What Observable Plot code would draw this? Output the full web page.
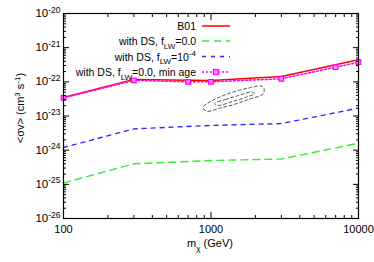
<!DOCTYPE html>
<html><head><meta charset="utf-8">
<script src="https://cdn.jsdelivr.net/npm/d3@7"></script>
<script src="https://cdn.jsdelivr.net/npm/@observablehq/plot@0.6"></script>
<style>html,body{margin:0;padding:0;background:#fff;} svg{font-family:"Liberation Sans",Arial,sans-serif;}</style>
</head><body><div id="chart"></div>
<script>
// ---- data ----
const massB01 = [100, 300, 1000, 3000, 10000];
const sigmaB01 = [3.5e-23, 1.18e-22, 1.1e-22, 1.43e-22, 4.4e-22];
const massDS = [100, 300, 1000, 3000, 10000];
const sigmaDS0 = [1.1e-25, 4.0e-25, 5.0e-25, 5.5e-25, 1.6e-24];
const sigmaDS4 = [1.2e-24, 4.2e-24, 5.3e-24, 6.0e-24, 1.7e-23];
const massMinAge = [100, 300, 700, 1000, 3000, 7000, 10000];
const sigmaMinAge = [3.4e-23, 1.1e-22, 1.0e-22, 1.0e-22, 1.23e-22, 2.68e-22, 3.76e-22];
// contour (dashed ellipses)
const outerMass = [880, 1024, 1216, 1489, 1853, 2198, 2290, 2250, 1795, 1421, 1159, 940];
const outerSigma = [1.75e-23, 2.85e-23, 4.0e-23, 5.4e-23, 6.8e-23, 7.5e-23, 6.2e-23, 4.4e-23, 3.05e-23, 2.15e-23, 1.72e-23, 1.38e-23];
const innerMass = [1057, 1254, 1536, 1882, 1972, 1714, 1398, 1107];
const innerSigma = [2.32e-23, 3.04e-23, 3.98e-23, 5.04e-23, 4.56e-23, 3.48e-23, 2.66e-23, 2.03e-23];
// ticks
const xTicks = [100, 1000, 10000];
const yTicks = [1e-26, 1e-25, 1e-24, 1e-23, 1e-22, 1e-21, 1e-20];

const zip = (xs, ys, extra = {}) => xs.map((x, i) => ({x, y: ys[i], ...extra}));
const contour = [...zip(outerMass, outerSigma, {z: "outer"}), ...zip(innerMass, innerSigma, {z: "inner"})];

const xMinor = [];
for (let d = 2; d < 4; d++) for (let k = 2; k <= 9; k++) xMinor.push(k * 10 ** d);
const yMinor = [];
for (let d = -26; d < -20; d++) for (let k = 2; k <= 9; k++) yMinor.push(+(k * 10 ** d).toPrecision(3));

const RED = "#ff0000", GREEN = "#33ee33", BLUE = "#2a2aff", PINK = "#ff00ff";

const plot = Plot.plot({
  width: 374, height: 262,
  marginLeft: 63, marginRight: 16, marginTop: 13, marginBottom: 44,
  style: {fontFamily: '"Liberation Sans", Arial, sans-serif', fontSize: "11px", color: "#000"},
  x: {type: "log", domain: [100, 10000], axis: null},
  y: {type: "log", domain: [1e-26, 1e-20], axis: null},
  marks: [
    Plot.line(contour, {x: "x", y: "y", z: "z", curve: "catmull-rom-closed", stroke: "#555", strokeWidth: 1, strokeDasharray: "3,2.5"}),
    Plot.line(zip(massDS, sigmaDS0), {x: "x", y: "y", stroke: GREEN, strokeWidth: 1.4, strokeDasharray: "7,5"}),
    Plot.line(zip(massDS, sigmaDS4), {x: "x", y: "y", stroke: BLUE, strokeWidth: 1.4, strokeDasharray: "4,5"}),
    Plot.line(zip(massB01, sigmaB01), {x: "x", y: "y", stroke: RED, strokeWidth: 1.5}),
    Plot.line(zip(massMinAge, sigmaMinAge), {x: "x", y: "y", stroke: PINK, strokeWidth: 1.5, strokeDasharray: "2,2"}),
    Plot.dot(zip(massMinAge, sigmaMinAge), {x: "x", y: "y", symbol: "square", r: 2.6, stroke: PINK, strokeWidth: 1.2, fill: "#ff88ff"}),
    // axes: inward ticks
    Plot.axisX(xTicks, {anchor: "bottom", tickSize: -6, tickPadding: 13, tickFormat: d => String(d), label: null, stroke: "#000"}),
    Plot.axisX(xMinor, {anchor: "bottom", tickSize: -3, fill: "none", label: null, stroke: "#000"}),
    Plot.axisX(xTicks, {anchor: "top", tickSize: -6, fill: "none", label: null, stroke: "#000"}),
    Plot.axisX(xMinor, {anchor: "top", tickSize: -3, fill: "none", label: null, stroke: "#000"}),
    Plot.axisY(yTicks, {anchor: "left", tickSize: -6, tickPadding: 9, tickFormat: d => "10^" + Math.round(Math.log10(d)), label: null, stroke: "#000"}),
    Plot.axisY(yMinor, {anchor: "left", tickSize: -3, fill: "none", label: null, stroke: "#000"}),
    Plot.axisY(yTicks, {anchor: "right", tickSize: -6, fill: "none", label: null, stroke: "#000"}),
    Plot.axisY(yMinor, {anchor: "right", tickSize: -3, fill: "none", label: null, stroke: "#000"}),
    Plot.frame({stroke: "#000", strokeWidth: 1.2})
  ]
});
document.getElementById("chart").append(plot);

const svg = d3.select(plot);

// rich text helper: segments [text, mode] mode: 0 normal, 1 sup, -1 sub
function rich(textSel, segs, size = 11, small = 8) {
  let cur = 0;
  for (const [t, mode] of segs) {
    const target = mode === 1 ? -4.5 : mode === -1 ? 3.5 : 0;
    textSel.append("tspan").attr("dy", target - cur).attr("font-size", mode ? small : size).text(t);
    cur = target;
  }
}

// rewrite y tick labels with superscripts
svg.selectAll('g[aria-label="y-axis tick label"] text').each(function () {
  const s = d3.select(this);
  const exp = s.text().split("^")[1];
  s.text("");
  rich(s, [["10", 0], [exp, 1]], 11.5, 8.5);
});

// axis labels
const ylab = svg.append("text").attr("transform", "translate(24,108) rotate(-90)")
  .attr("text-anchor", "middle").attr("font-size", 11).attr("fill", "#000");
rich(ylab, [["<σv> (cm", 0], ["3", 1], [" s", 0], ["-1", 1], [")", 0]]);
const xlab = svg.append("text").attr("x", 210).attr("y", 247)
  .attr("text-anchor", "middle").attr("font-size", 11).attr("fill", "#000");
rich(xlab, [["m", 0], ["χ", -1], [" (GeV)", 0]]);

// legend
const legendItems = [
  {segs: [["B01", 0]], stroke: RED, dash: null, w: 1.5},
  {segs: [["with DS, f", 0], ["LW", -1], ["=0.0", 0]], stroke: GREEN, dash: "7,5", w: 1.4},
  {segs: [["with DS, f", 0], ["LW", -1], ["=10", 0], ["-4", 1]], stroke: BLUE, dash: "4,5", w: 1.4},
  {segs: [["with DS, f", 0], ["LW", -1], ["=0.0, min age", 0]], stroke: PINK, dash: "2,2", w: 1.5, dot: true}
];
const legendY = [26, 41, 56.5, 72];
const lg = svg.append("g");
legendItems.forEach((it, i) => {
  const y = legendY[i];
  const t = lg.append("text").attr("x", 196).attr("y", y + 4).attr("text-anchor", "end").attr("font-size", 10.5).attr("fill", "#000");
  rich(t, it.segs, 10.5, 8);
  lg.append("line").attr("x1", 202).attr("x2", 230).attr("y1", y).attr("y2", y)
    .attr("stroke", it.stroke).attr("stroke-width", it.w).attr("stroke-dasharray", it.dash);
  if (it.dot) lg.append("rect").attr("x", 213.5).attr("y", y - 2.5).attr("width", 5).attr("height", 5)
    .attr("stroke", PINK).attr("stroke-width", 1.2).attr("fill", "#ff88ff");
});
</script></body></html>
